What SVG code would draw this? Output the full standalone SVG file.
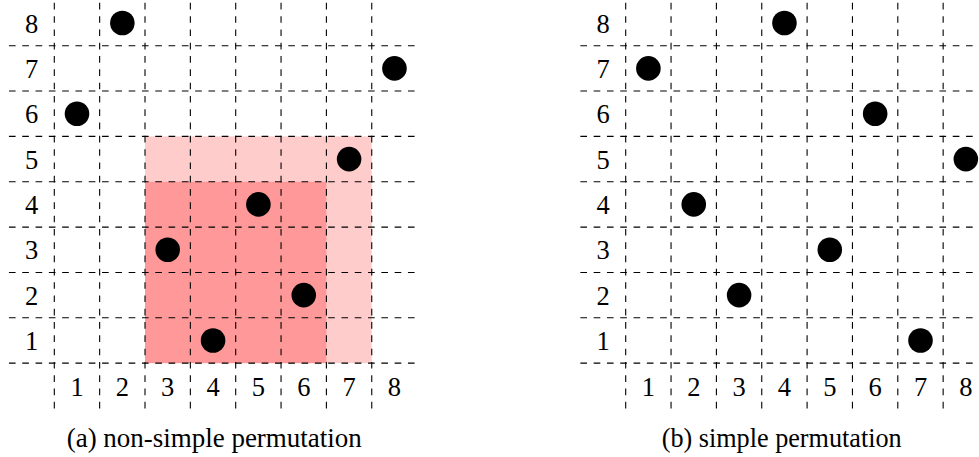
<svg xmlns="http://www.w3.org/2000/svg" width="979" height="457" viewBox="0 0 979 457">
<style>
.g line{stroke:#000;stroke-width:1.1;stroke-dasharray:6.65 6.65;fill:none}
.lbl{font-family:"Liberation Serif","DejaVu Serif",serif;font-size:26.5px;fill:#000;text-anchor:middle}
.cap{font-family:"Liberation Serif","DejaVu Serif",serif;font-size:27px;fill:#000;text-anchor:middle}
.dot{fill:#000}
</style>
<defs>
<circle id="d" r="12.3" class="dot"/>
</defs>

<!-- Left panel -->
<g id="panel-a">
  <rect id="block-light" x="145" y="136.4" width="226.75" height="226.75" fill="#ffcccc"/>
  <rect id="block-dark" x="145" y="181.75" width="181.4" height="181.4" fill="#ff9999"/>
  <g class="g" id="grid-a">
    <line x1="54.3" y1="408.5" x2="54.3" y2="0"/>
    <line x1="99.65" y1="408.5" x2="99.65" y2="0"/>
    <line x1="145" y1="408.5" x2="145" y2="0"/>
    <line x1="190.35" y1="408.5" x2="190.35" y2="0"/>
    <line x1="235.7" y1="408.5" x2="235.7" y2="0"/>
    <line x1="281.05" y1="408.5" x2="281.05" y2="0"/>
    <line x1="326.4" y1="408.5" x2="326.4" y2="0"/>
    <line x1="371.75" y1="408.5" x2="371.75" y2="0"/>
    <line x1="8.95" y1="45.7" x2="417.1" y2="45.7"/>
    <line x1="8.95" y1="91.05" x2="417.1" y2="91.05"/>
    <line x1="8.95" y1="136.4" x2="417.1" y2="136.4"/>
    <line x1="8.95" y1="181.75" x2="417.1" y2="181.75"/>
    <line x1="8.95" y1="227.1" x2="417.1" y2="227.1"/>
    <line x1="8.95" y1="272.45" x2="417.1" y2="272.45"/>
    <line x1="8.95" y1="317.8" x2="417.1" y2="317.8"/>
    <line x1="8.95" y1="363.15" x2="417.1" y2="363.15"/>
  </g>
  <g id="rows-a" class="lbl">
    <text x="31.6" y="32.5">8</text>
    <text x="31.6" y="77.9">7</text>
    <text x="31.6" y="123.2">6</text>
    <text x="31.6" y="168.6">5</text>
    <text x="31.6" y="213.9">4</text>
    <text x="31.6" y="259.3">3</text>
    <text x="31.6" y="304.6">2</text>
    <text x="31.6" y="350">1</text>
  </g>
  <g id="cols-a" class="lbl">
    <text x="77" y="395.5">1</text>
    <text x="122.35" y="395.5">2</text>
    <text x="167.7" y="395.5">3</text>
    <text x="213.05" y="395.5">4</text>
    <text x="258.4" y="395.5">5</text>
    <text x="303.75" y="395.5">6</text>
    <text x="349.1" y="395.5">7</text>
    <text x="394.45" y="395.5">8</text>
  </g>
  <g id="points-a">
    <use href="#d" x="77" y="113.7"/>
    <use href="#d" x="122.35" y="23"/>
    <use href="#d" x="167.7" y="249.8"/>
    <use href="#d" x="213.05" y="340.5"/>
    <use href="#d" x="258.4" y="204.4"/>
    <use href="#d" x="303.75" y="295.1"/>
    <use href="#d" x="349.1" y="159.1"/>
    <use href="#d" x="394.45" y="68.4"/>
  </g>
  <text id="caption-a" class="cap" x="214.2" y="446.5" textLength="295" lengthAdjust="spacingAndGlyphs">(a) non-simple permutation</text>
</g>

<!-- Right panel -->
<g id="panel-b">
  <g class="g" id="grid-b">
    <line x1="625.7" y1="408.5" x2="625.7" y2="0"/>
    <line x1="671.05" y1="408.5" x2="671.05" y2="0"/>
    <line x1="716.4" y1="408.5" x2="716.4" y2="0"/>
    <line x1="761.75" y1="408.5" x2="761.75" y2="0"/>
    <line x1="807.1" y1="408.5" x2="807.1" y2="0"/>
    <line x1="852.45" y1="408.5" x2="852.45" y2="0"/>
    <line x1="897.8" y1="408.5" x2="897.8" y2="0"/>
    <line x1="943.15" y1="408.5" x2="943.15" y2="0"/>
    <line x1="580.35" y1="45.7" x2="988.5" y2="45.7"/>
    <line x1="580.35" y1="91.05" x2="988.5" y2="91.05"/>
    <line x1="580.35" y1="136.4" x2="988.5" y2="136.4"/>
    <line x1="580.35" y1="181.75" x2="988.5" y2="181.75"/>
    <line x1="580.35" y1="227.1" x2="988.5" y2="227.1"/>
    <line x1="580.35" y1="272.45" x2="988.5" y2="272.45"/>
    <line x1="580.35" y1="317.8" x2="988.5" y2="317.8"/>
    <line x1="580.35" y1="363.15" x2="988.5" y2="363.15"/>
  </g>
  <g id="rows-b" class="lbl">
    <text x="603" y="32.5">8</text>
    <text x="603" y="77.9">7</text>
    <text x="603" y="123.2">6</text>
    <text x="603" y="168.6">5</text>
    <text x="603" y="213.9">4</text>
    <text x="603" y="259.3">3</text>
    <text x="603" y="304.6">2</text>
    <text x="603" y="350">1</text>
  </g>
  <g id="cols-b" class="lbl">
    <text x="648.4" y="395.5">1</text>
    <text x="693.75" y="395.5">2</text>
    <text x="739.1" y="395.5">3</text>
    <text x="784.45" y="395.5">4</text>
    <text x="829.8" y="395.5">5</text>
    <text x="875.15" y="395.5">6</text>
    <text x="920.5" y="395.5">7</text>
    <text x="965.85" y="395.5">8</text>
  </g>
  <g id="points-b">
    <use href="#d" x="648.4" y="68.4"/>
    <use href="#d" x="693.75" y="204.4"/>
    <use href="#d" x="739.1" y="295.1"/>
    <use href="#d" x="784.45" y="23"/>
    <use href="#d" x="829.8" y="249.8"/>
    <use href="#d" x="875.15" y="113.7"/>
    <use href="#d" x="920.5" y="340.5"/>
    <use href="#d" x="965.85" y="159.1"/>
  </g>
  <text id="caption-b" class="cap" x="781.7" y="446.5" textLength="240" lengthAdjust="spacingAndGlyphs">(b) simple permutation</text>
</g>
</svg>
